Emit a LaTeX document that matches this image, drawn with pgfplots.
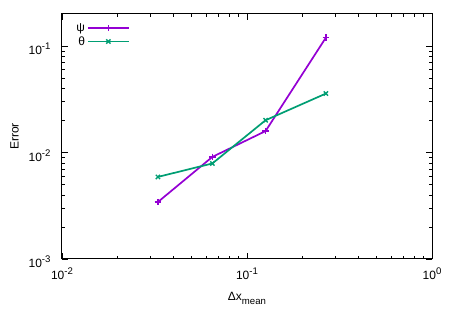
\documentclass[border=0pt]{standalone}
\usepackage{fontspec}
\setmainfont{Liberation Sans}
\usepackage{pgfplots}
\pgfplotsset{compat=1.18}
\definecolor{gpviolet}{HTML}{9400D3}
\definecolor{gpgreen}{HTML}{009E73}
\newcommand\sups[1]{\raisebox{0.42em}{\fontsize{9.6}{10}\selectfont #1}}
\newcommand\subs[1]{\raisebox{-0.3em}{\fontsize{9.6}{10}\selectfont #1}}
\begin{document}
\begin{tikzpicture}
\path[use as bounding box] (0pt,0pt) rectangle (458pt,320pt);
\begin{axis}[
  at={(62pt,61pt)}, anchor=south west,
  scale only axis, width=370pt, height=245pt,
  xmode=log, ymode=log,
  xmin=0.01, xmax=1, ymin=0.001, ymax=0.2,
  font=\fontsize{12}{14}\selectfont,
  axis line style={line width=1pt},
  tick align=inside, tick pos=both,
  major tick length=6pt, minor tick length=3pt,
  every tick/.style={black, line width=0.6pt},
  xtick={0.01,0.1,1},
  xticklabels={10\sups{-2},10\sups{-1},10\sups{0}},
  ytick={0.001,0.01,0.1},
  yticklabels={10\sups{-3},10\sups{-2},10\sups{-1}},
  xticklabel style={yshift=-5pt},
  yticklabel style={xshift=-8pt, yshift=-3pt},
  xlabel={Δx\subs{mean}},
  ylabel={Error},
  xlabel style={at={(axis description cs:0.5,-0.161)}, anchor=center},
  ylabel style={at={(axis description cs:-0.128,0.5)}, anchor=center},
  legend style={draw=none, fill=none, at={(0.025,0.978)}, anchor=north west,
    font=\fontsize{12}{14}\selectfont, row sep=-0.5pt},
  legend plot pos=right,
  legend cell align=right,
  legend image code/.code={
    \draw[#1, mark repeat=2, mark phase=2] plot coordinates {(0pt,0pt) (20.5pt,0pt) (41pt,0pt)};
  },
]
\addplot[gpviolet, line width=1.7pt, mark=+, mark size=3.2pt, mark options={line width=1.4pt}]
  coordinates {(0.033,0.00343) (0.065,0.0091) (0.126,0.0159) (0.267,0.120)};
\addlegendentry{ψ}
\addplot[gpgreen, line width=1.7pt, mark=x, mark size=3pt, mark options={line width=1.4pt}]
  coordinates {(0.033,0.0059) (0.065,0.0079) (0.126,0.0201) (0.267,0.0358)};
\addlegendentry{θ}
\end{axis}
\end{tikzpicture}
\end{document}
